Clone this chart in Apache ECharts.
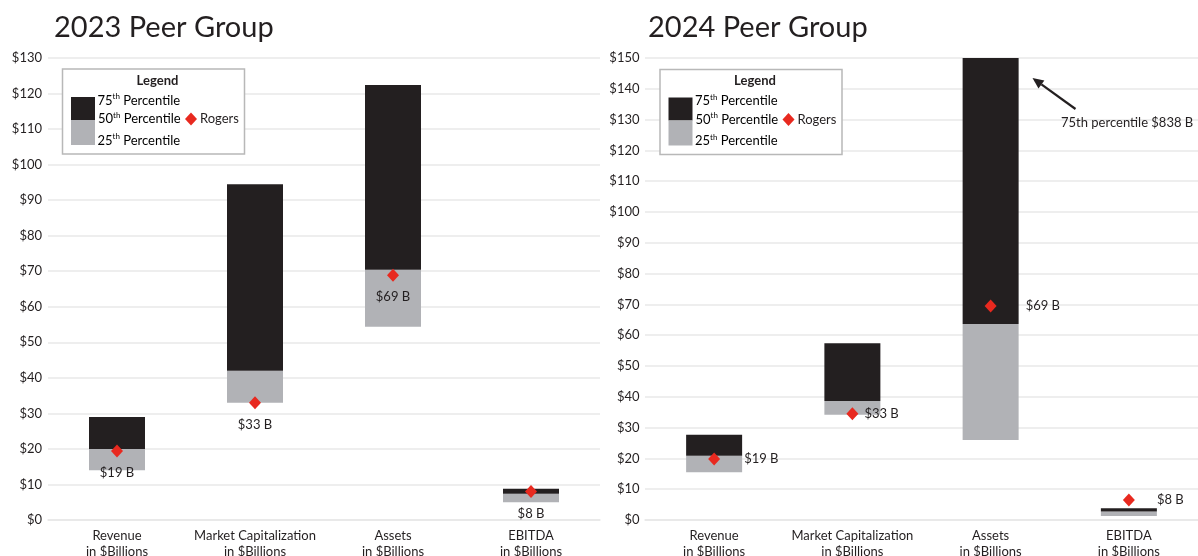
<!DOCTYPE html>
<html>
<head>
<meta charset="utf-8">
<script src="https://cdn.jsdelivr.net/npm/echarts@6/dist/echarts.min.js"></script>
<style>
html,body{margin:0;padding:0;background:#fff;}
#chart{width:1198px;height:556px;}
</style>
</head>
<body>
<div id="chart"></div>
<script>
// ---------- data ----------
const categories = ['Revenue\nin $Billions', 'Market Capitalization\nin $Billions', 'Assets\nin $Billions', 'EBITDA\nin $Billions'];

const p25_2023 = [14.0, 33.0, 54.4, 5.0];
const p50_2023 = [20.0, 42.0, 70.4, 7.4];
const p75_2023 = [29.0, 94.5, 122.4, 8.8];
const rogers_2023 = [19.4, 33.0, 68.9, 8.0];
const rogersLabels_2023 = ['$19 B', '$33 B', '$69 B', '$8 B'];

const p25_2024 = [15.5, 34.2, 26.0, 1.3];
const p50_2024 = [20.9, 38.6, 63.6, 2.8];
const p75_2024 = [27.7, 57.4, 838, 3.8];
const rogers_2024 = [19.8, 34.5, 69.5, 6.5];
const rogersLabels_2024 = ['$19 B', '$33 B', '$69 B', '$8 B'];

const titles = ['2023 Peer Group', '2024 Peer Group'];
const yMax = [130, 150];
const annotationText = '75th percentile $838 B';

// ---------- style ----------
const FONT = 'Lato, "Open Sans", sans-serif';
const TXT = '#231f20';
const BLACK = '#231f20';
const GREY = '#b1b2b6';
const RED = '#e8291f';
const GRID = '#e8e8e8';

const chart = echarts.init(document.getElementById('chart'), null, {renderer: 'canvas'});

function diff(a, b) { return a.map((v, i) => +(v - b[i]).toFixed(3)); }

function barSeries(idx, p25, p50, p75) {
  const stack = 's' + idx;
  return [
    {type: 'bar', xAxisIndex: idx, yAxisIndex: idx, stack, barWidth: 56, silent: true,
     itemStyle: {color: 'rgba(0,0,0,0)'}, data: p25},
    {type: 'bar', xAxisIndex: idx, yAxisIndex: idx, stack, barWidth: 56,
     itemStyle: {color: GREY}, data: diff(p50, p25)},
    {type: 'bar', xAxisIndex: idx, yAxisIndex: idx, stack, barWidth: 56,
     itemStyle: {color: BLACK}, data: diff(p75, p50)}
  ];
}

const labelDist2024 = [24, 6, 29, 22];

function rogersSeries(idx, vals, labels, pos) {
  return {
    type: 'scatter', xAxisIndex: idx, yAxisIndex: idx, symbol: 'diamond', symbolSize: [12, 13], z: 10,
    itemStyle: {color: RED, opacity: 1},
    data: vals.map((v, i) => ({
      value: v,
      label: {
        show: true, formatter: labels[i], position: pos,
        distance: pos === 'bottom' ? 9 : labelDist2024[i],
        color: TXT, fontSize: 13, fontFamily: FONT
      }
    }))
  };
}

function legendGraphic(x0, y0) {
  const t = {fontSize: 13, fontFamily: FONT, fill: TXT};
  const rich = {
    n: {fontSize: 13, fontFamily: FONT, color: TXT, lineHeight: 16},
    s: {fontSize: 8, fontFamily: FONT, color: TXT, lineHeight: 9, verticalAlign: 'top'}
  };
  return [
    {type: 'rect', shape: {x: x0, y: y0, width: 182, height: 85}, style: {fill: '#fff', stroke: '#b8b8b8', lineWidth: 1.5}, z: 20},
    {type: 'text', x: x0 + 95, y: y0 + 11.5, style: Object.assign({text: 'Legend', fontWeight: 'bold', align: 'center', verticalAlign: 'middle'}, t), z: 21},
    {type: 'rect', shape: {x: x0 + 8.5, y: y0 + 28, width: 24, height: 23}, style: {fill: BLACK}, z: 21},
    {type: 'rect', shape: {x: x0 + 8.5, y: y0 + 51, width: 24, height: 25}, style: {fill: GREY}, z: 21},
    {type: 'text', x: x0 + 35, y: y0 + 31.5, style: {text: '{n|75}{s|th}{n| Percentile}', rich, verticalAlign: 'middle'}, z: 21},
    {type: 'text', x: x0 + 35.5, y: y0 + 50, style: {text: '{n|50}{s|th}{n| Percentile}', rich, verticalAlign: 'middle'}, z: 21},
    {type: 'text', x: x0 + 35, y: y0 + 71.5, style: {text: '{n|25}{s|th}{n| Percentile}', rich, verticalAlign: 'middle'}, z: 21},
    {type: 'polygon', shape: {points: [[x0 + 128.5, y0 + 43.5], [x0 + 134.5, y0 + 50], [x0 + 128.5, y0 + 56.5], [x0 + 122.5, y0 + 50]]}, style: {fill: RED}, z: 21},
    {type: 'text', x: x0 + 137.5, y: y0 + 50, style: Object.assign({text: 'Rogers', verticalAlign: 'middle'}, t), z: 21}
  ];
}

// annotation arrow (2024 Assets)
const tail = [1075.5, 109], tip = [1032.5, 78];
const dx = tip[0] - tail[0], dy = tip[1] - tail[1], L = Math.hypot(dx, dy);
const ux = dx / L, uy = dy / L, px = -uy, py = ux;
const hl = 11, hw = 5;
const base = [tip[0] - ux * hl, tip[1] - uy * hl];
const annotation = [
  {type: 'line', shape: {x1: tail[0], y1: tail[1], x2: base[0], y2: base[1]}, style: {stroke: BLACK, lineWidth: 2.2}, z: 30},
  {type: 'polygon', shape: {points: [tip, [base[0] + px * hw, base[1] + py * hw], [base[0] - px * hw, base[1] - py * hw]]}, style: {fill: BLACK}, z: 30},
  {type: 'text', x: 1061, y: 123, style: {text: annotationText, fontSize: 13, fontFamily: FONT, fill: TXT, verticalAlign: 'middle'}, z: 30}
];

const grids = [
  {left: 48, top: 58, width: 552, bottom: 36, outerBoundsMode: 'none', containLabel: false},
  {left: 645, top: 58, width: 553, bottom: 36, outerBoundsMode: 'none', containLabel: false}
];

function xAxis(idx) {
  return {
    type: 'category', gridIndex: idx, data: categories,
    axisLine: {show: true, lineStyle: {color: GRID, width: 1.5}},
    axisTick: {show: false},
    axisLabel: {color: TXT, fontSize: 13, fontFamily: FONT, lineHeight: 16, margin: 8, interval: 0}
  };
}
function yAxis(idx) {
  return {
    type: 'value', gridIndex: idx, min: 0, max: yMax[idx], interval: 10,
    axisLine: {show: false}, axisTick: {show: false},
    splitLine: {lineStyle: {color: GRID, width: 1.5}},
    axisLabel: {color: TXT, fontSize: 13, fontFamily: FONT, margin: idx === 0 ? 6 : 5.5, formatter: v => '$' + v}
  };
}

const option = {
  animation: false,
  backgroundColor: '#fff',
  title: [
    {text: titles[0], left: 54, top: 13, padding: 0, textStyle: {fontSize: 29, fontWeight: 'normal', color: TXT, fontFamily: FONT}},
    {text: titles[1], left: 648, top: 13, padding: 0, textStyle: {fontSize: 29, fontWeight: 'normal', color: TXT, fontFamily: FONT}}
  ],
  grid: grids,
  xAxis: [xAxis(0), xAxis(1)],
  yAxis: [yAxis(0), yAxis(1)],
  series: [
    ...barSeries(0, p25_2023, p50_2023, p75_2023),
    rogersSeries(0, rogers_2023, rogersLabels_2023, 'bottom'),
    ...barSeries(1, p25_2024, p50_2024, p75_2024),
    rogersSeries(1, rogers_2024, rogersLabels_2024, 'right')
  ],
  graphic: [...legendGraphic(62.5, 69), ...legendGraphic(660, 69.5), ...annotation]
};
chart.setOption(option);
</script>
</body>
</html>
